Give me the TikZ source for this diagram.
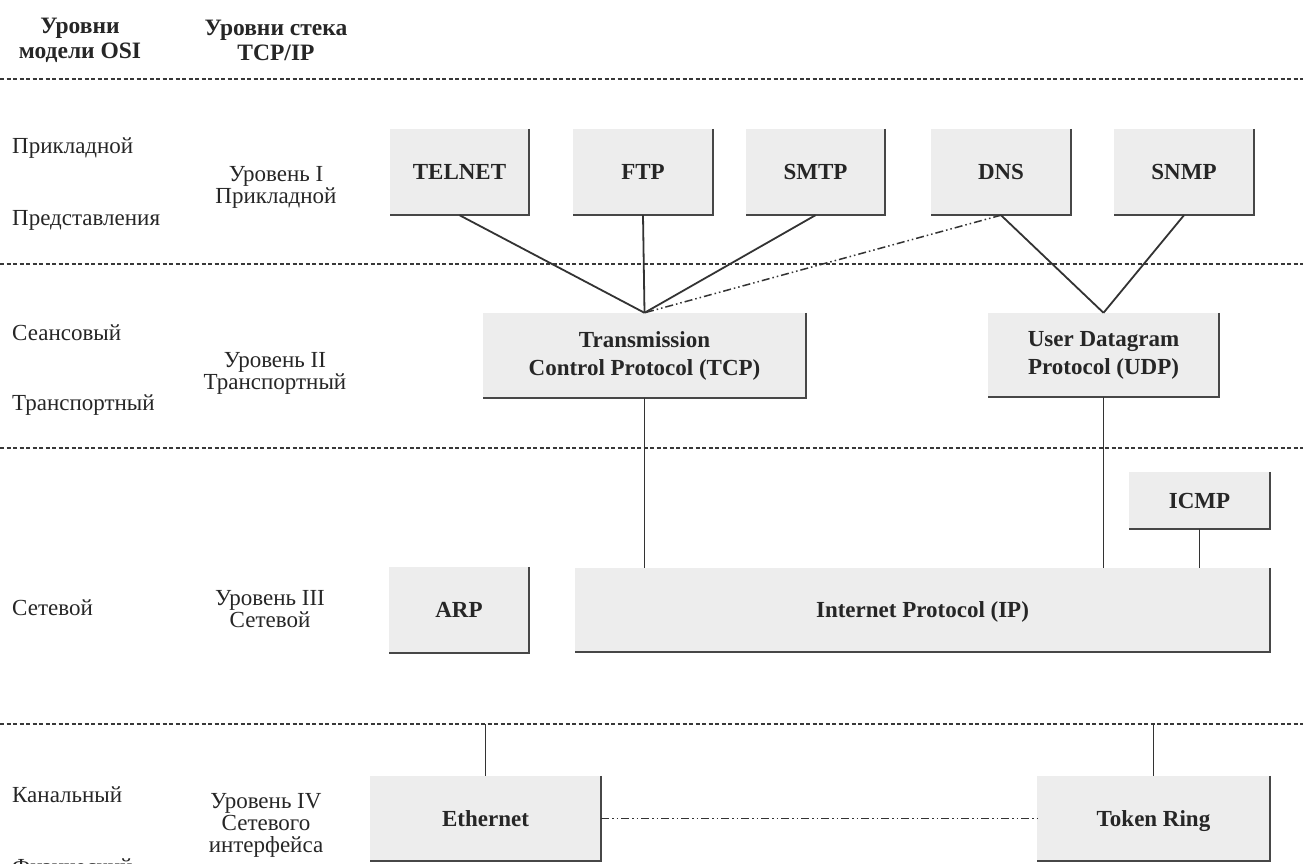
\documentclass[tikz,border=0pt]{standalone}
\usepackage{fontspec}
\setmainfont{Liberation Serif}
\begin{document}
\begin{tikzpicture}[x=1pt,y=-1pt,
  every node/.style={text=black!85},
  lvl/.style={font=\fontsize{23}{22}\selectfont, align=center, inner sep=0pt},
  osi/.style={font=\fontsize{23}{22}\selectfont, anchor=west, inner sep=0pt},
  head/.style={font=\fontsize{23.5}{25}\selectfont\bfseries, align=center, inner sep=0pt},
  proto/.style={fill=black!7, inner sep=0pt, align=center,
    font=\fontsize{23}{28}\selectfont\bfseries},
  single/.style={text height=15.3pt, text depth=0pt},
  shade/.style={draw=black!72, line width=1.7pt},
  link/.style={draw=black!80, line width=1.8pt},
  sep/.style={draw=black!78, line width=1.2pt, dash pattern=on 4.3pt off 2.2pt},
  dashdot/.style={draw=black!80, line width=1.5pt,
    dash pattern=on 8pt off 3pt on 1.5pt off 3pt on 1.5pt off 3pt}]
\clip (0,0) rectangle (1303,863);
\fill[white] (0,0) rectangle (1303,863);

% column headings
\node[head] (h1) at (80,40) {Уровни\\модели OSI};
\node[head] (h2) at (276,40) {Уровни стека\\TCP/IP};

% layer separators
\coordinate (s1) at (0,79);
\coordinate (s2) at (0,264);
\coordinate (s3) at (0,448);
\coordinate (s4) at (0,724);
\foreach \s in {s1,s2,s3,s4} \draw[sep] (\s) -- ++(1303,0);

% OSI layer names
\node[osi] (o1) at (12,148) {Прикладной};
\node[osi] (o2) at (12,220) {Представления};
\node[osi] (o3) at (12,333) {Сеансовый};
\node[osi] (o4) at (12,405) {Транспортный};
\node[osi] (o5) at (12,608) {Сетевой};
\node[osi] (o6) at (12,795) {Канальный};
\node[osi] (o7) at (12,867) {Физический};

% TCP/IP levels
\node[lvl] (l1) at (276,187) {Уровень I\\Прикладной};
\node[lvl] (l2) at (275,373) {Уровень II\\Транспортный};
\node[lvl] (l3) at (270,609) {Уровень III\\Сетевой};
\node[lvl] (l4) at (266,825) {Уровень IV\\Сетевого\\интерфейса};

% protocol boxes
\node[proto, single, minimum width=139pt, minimum height=86pt] (telnet) at (459.5,172) {TELNET};
\node[proto, single, minimum width=140pt, minimum height=86pt] (ftp) at (643,172) {FTP};
\node[proto, single, minimum width=139pt, minimum height=86pt] (smtp) at (815.5,172) {SMTP};
\node[proto, single, minimum width=140pt, minimum height=86pt] (dns) at (1001,172) {DNS};
\node[proto, single, minimum width=140pt, minimum height=86pt] (snmp) at (1184,172) {SNMP};
\node[proto, minimum width=323pt, minimum height=85pt] (tcp) at (644.5,355.5) {Transmission\\Control Protocol (TCP)};
\node[proto, minimum width=231pt, minimum height=84pt] (udp) at (1103.5,355) {User Datagram\\Protocol (UDP)};
\node[proto, single, minimum width=141pt, minimum height=57pt] (icmp) at (1199.5,500.5) {ICMP};
\node[proto, single, minimum width=140pt, minimum height=86pt] (arp) at (459,610) {ARP};
\node[proto, single, minimum width=695pt, minimum height=84pt] (ip) at (922.5,610) {Internet Protocol (IP)};
\node[proto, single, minimum width=231pt, minimum height=85pt] (eth) at (485.5,818.5) {Ethernet};
\node[proto, single, minimum width=233pt, minimum height=85pt] (tr) at (1153.5,818.5) {Token Ring};

% right and bottom edges of every box
\foreach \n in {telnet,ftp,smtp,dns,snmp,tcp,udp,icmp,arp,ip,eth,tr}
  \draw[shade] (\n.north east) -- (\n.south east) -- (\n.south west);

% connections
\draw[link] (telnet.south) -- (tcp.north);
\draw[link] (ftp.south) -- (tcp.north);
\draw[link] (smtp.south) -- (tcp.north);
\draw[dashdot] (dns.south) -- (tcp.north);
\draw[link] (dns.south) -- (udp.north);
\draw[link] (snmp.south) -- (udp.north);
\draw[link] (tcp.south) -- (tcp.south |- ip.north);
\draw[link] (udp.south) -- (udp.south |- ip.north);
\draw[link] (icmp.south) -- (icmp.south |- ip.north);
\draw[link] (eth.north) -- (eth.north |- s4);
\draw[link] (tr.north) -- (tr.north |- s4);
\draw[dashdot] (eth.east) -- (tr.west);
\end{tikzpicture}
\end{document}
